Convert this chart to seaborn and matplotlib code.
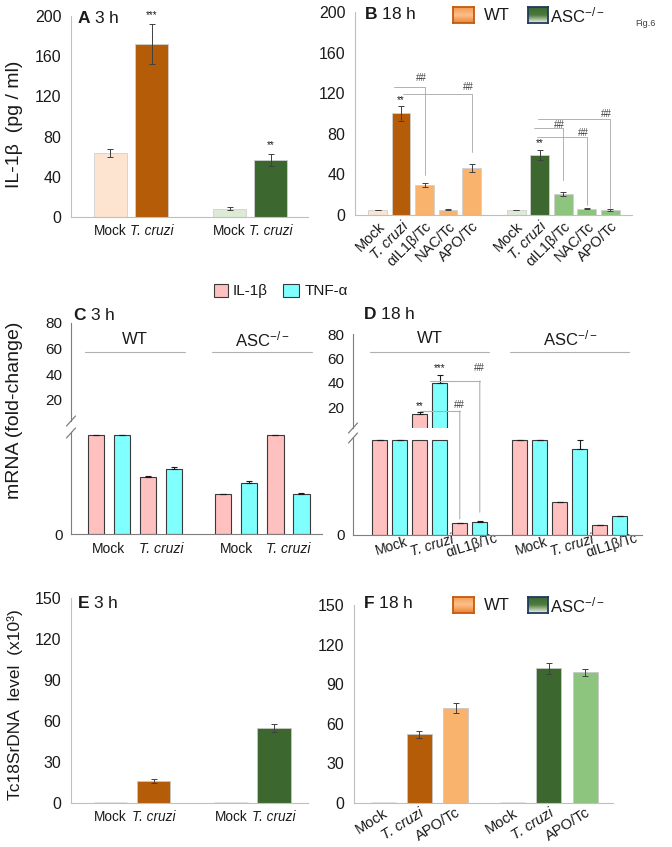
import numpy as np
import pandas as pd
import matplotlib
matplotlib.use("Agg")
import matplotlib.pyplot as plt
import seaborn as sns
from matplotlib.colors import LinearSegmentedColormap
from matplotlib.lines import Line2D
from matplotlib.patches import ConnectionPatch, Rectangle

W, H = 672, 847

# ---------------- data ----------------
# A: IL-1b protein, 3 h  (WT mock, WT T. cruzi, ASC-/- mock, ASC-/- T. cruzi)
a_labels = ["Mock", "T. cruzi", "Mock", "T. cruzi"]
a_values = [64, 172, 8, 57]
a_errors = [4, 20, 1.5, 6]

# B: IL-1b protein, 18 h
b_labels = ["Mock", "T. cruzi", "αIL1β/Tc", "NAC/Tc", "APO/Tc"] * 2
b_values = [5, 100, 30, 5, 46, 5, 59, 21, 6, 5]
b_errors = [0, 7, 2, 0.5, 4, 0, 5, 2, 0.5, 1]

# C: mRNA fold change, 3 h
c_labels = ["Mock", "T. cruzi", "Mock", "T. cruzi"]
c_il1b = [1.0, 0.58, 0.40, 1.0]
c_tnfa = [1.0, 0.66, 0.52, 0.40]
c_il1b_err = [0, 0.005, 0.005, 0]
c_tnfa_err = [0, 0.02, 0.015, 0.015]

# D: mRNA fold change, 18 h
d_labels = ["Mock", "T. cruzi", "αIL1β/Tc"] * 2
d_il1b = [1.0, 14, 0.13, 1.0, 0.35, 0.11]
d_tnfa = [1.0, 40, 0.14, 1.0, 0.90, 0.20]
d_il1b_err = [0, 2, 0, 0, 0, 0]
d_tnfa_err = [0, 6, 0.005, 0, 0.10, 0]

# E: Tc18SrDNA, 3 h
e_labels = ["Mock", "T. cruzi", "Mock", "T. cruzi"]
e_values = [0.3, 16, 0.3, 55]
e_errors = [0, 1.5, 0, 3]

# F: Tc18SrDNA, 18 h
f_labels = ["Mock", "T. cruzi", "APO/Tc"] * 2
f_values = [0.3, 52, 72, 0.3, 102, 99]
f_errors = [0, 2.5, 3.5, 0, 4, 2.5]

# significance marks (bar index, y value, text)
b_stars = [(1, 113, "**"), (6, 71, "**")]
# B brackets: (x start, bar index, y level, y end, label y)
b_brackets = [(0.7, 2, 126, 39, 135), (1.08, 4, 119, 62, 126),
              (6.82, 9, 95, 7, 100), (6.66, 7, 86, 34, 89), (6.79, 8, 77, 10, 81)]
# D brackets: (x start, bar index, y level in upper part, y end in lower part, label y)
d_brackets = [(2.5, 5, 41.4, 0.24, 52), (2.0, 4, 16.7, 0.17, 21.7)]

# ---------------- style ----------------
WT_MOCK, WT_TC, WT_LIGHT = "#FCE4D0", "#B45C08", "#F9B36D"
ASC_MOCK, ASC_TC, ASC_LIGHT = "#DDEBD6", "#3C6830", "#8DC47E"
PINK, CYAN = "#FFC0C0", "#80FFFF"
GRID_GREY = "#BFBFBF"

sns.set_style("white")
plt.rcParams["font.family"] = ["Liberation Sans", "DejaVu Sans"]
plt.rcParams["mathtext.fontset"] = "custom"
plt.rcParams["mathtext.rm"] = "Liberation Sans"
plt.rcParams["mathtext.bf"] = "Liberation Sans:bold"
plt.rcParams["mathtext.it"] = "Liberation Sans:italic"
plt.rcParams["mathtext.default"] = "regular"
plt.rcParams["text.color"] = "#1A1A1A"
plt.rcParams["xtick.color"] = "#1A1A1A"
plt.rcParams["ytick.color"] = "#1A1A1A"

fig = plt.figure(figsize=(W / 100, H / 100), dpi=100)


def rect(left, top, right, bottom):
    return [left / W, 1 - bottom / H, (right - left) / W, (bottom - top) / H]


def fxy(x, y):
    return x / W, 1 - y / H


def positions(n_groups, per_group, gap):
    return [g * (per_group + gap) + i for g in range(n_groups) for i in range(per_group)]


def draw_bars(ax, pos, values, colors, width, edge, lw):
    df = pd.DataFrame({"pos": pos, "value": values,
                       "key": [f"b{i}" for i in range(len(pos))]})
    sns.barplot(data=df, x="pos", y="value", hue="key",
                palette=dict(zip(df["key"], colors)), native_scale=True,
                width=width, errorbar=None, saturation=1, legend=False,
                edgecolor=edge, linewidth=lw, ax=ax)
    ax.set_xlabel("")
    ax.set_ylabel("")


def dark_baseline(ax, limit):
    # near-zero bars show up as a thin grey line on the axis
    for p in ax.patches:
        if p.get_height() < limit:
            p.set_edgecolor("#7A7A7A")
            p.set_linewidth(1.0)


def excel_axes(ax, ylim, yticks, xlim, seps):
    ax.set_xlim(xlim)
    ax.set_ylim(ylim)
    ax.set_yticks(yticks)
    sns.despine(ax=ax)
    for s in ["left", "bottom"]:
        ax.spines[s].set_color(GRID_GREY)
        ax.spines[s].set_linewidth(0.8)
    ax.tick_params(axis="y", length=4, width=0.8, color=GRID_GREY, labelsize=11.5, pad=3)
    ax.set_xticks(seps, minor=True)
    ax.tick_params(axis="x", which="minor", length=4, width=0.8, color=GRID_GREY)
    ax.tick_params(axis="x", which="major", length=0, labelsize=9.8, pad=5)


def italic_cruzi(ax):
    for lbl in ax.get_xticklabels():
        if "cruzi" in lbl.get_text():
            lbl.set_fontstyle("italic")


def gradient_swatch(x, y, w, h, colors, edge):
    sw = fig.add_axes(rect(x, y, x + w, y + h))
    cmap = LinearSegmentedColormap.from_list("sw", colors)
    sw.imshow(np.linspace(0, 1, 32).reshape(-1, 1), aspect="auto", cmap=cmap)
    sw.set_xticks([])
    sw.set_yticks([])
    for s in sw.spines.values():
        s.set_visible(True)
        s.set_color(edge)
        s.set_linewidth(1.3)


def strain_legend(y):
    gradient_swatch(453, y - 8, 21, 16, ["#F59A4E", "#FBC08C", "#EE8530"], "#C55A11")
    fig.text(*fxy(484, y), "WT", fontsize=12, va="center")
    gradient_swatch(528, y - 8, 20, 16, ["#3C6830", "#4C7A3C", "#EEF0E6"], "#1F3A5F")
    fig.text(*fxy(550, y), "ASC$^{-/-}$", fontsize=12, va="center")


# ---------------- A ----------------
axA = fig.add_axes(rect(71, 16, 308, 217))
a_pos = positions(2, 2, 0.9)
draw_bars(axA, a_pos, a_values, [WT_MOCK, WT_TC, ASC_MOCK, ASC_TC], 0.8, "#D0D0D0", 0.6)
axA.errorbar(a_pos, a_values, yerr=a_errors, fmt="none", ecolor="#404040",
             elinewidth=0.7, capsize=2.5, capthick=0.7)
excel_axes(axA, (0, 200), range(0, 201, 40), (-0.96, 4.81), [1.95])
axA.set_xticks(a_pos, a_labels)
italic_cruzi(axA)
axA.text(a_pos[1], 201, "***", ha="center", va="center", fontsize=7, clip_on=False)
axA.text(a_pos[3], 72, "**", ha="center", va="center", fontsize=7)
fig.text(*fxy(77, 18), r"$\mathbf{A}$ 3 h", fontsize=12.5, va="center")
fig.text(*fxy(15, 124), "IL-1β  (pg / ml)", fontsize=14, rotation=90, ha="center", va="center")

# ---------------- B ----------------
axB = fig.add_axes(rect(355, 12, 632, 215))
b_pos = positions(2, 5, 0.9)
b_colors = [WT_MOCK, WT_TC, WT_LIGHT, WT_LIGHT, WT_LIGHT,
            ASC_MOCK, ASC_TC, ASC_LIGHT, ASC_LIGHT, ASC_LIGHT]
draw_bars(axB, b_pos, b_values, b_colors, 0.8, "#D0D0D0", 0.6)
axB.errorbar(b_pos, b_values, yerr=b_errors, fmt="none", ecolor="#404040",
             elinewidth=0.7, capsize=2, capthick=0.7)
excel_axes(axB, (0, 200), range(0, 201, 40), (-0.96, 10.83), [4.95])
axB.set_xticks(b_pos, b_labels, rotation=45, ha="right", rotation_mode="anchor")
axB.tick_params(axis="x", which="major", labelsize=10.5, pad=3)
italic_cruzi(axB)
for i, y, s in b_stars:
    axB.text(b_pos[i], y, s, ha="center", va="center", fontsize=7)
for x0, bar, yl, yend, ylab in b_brackets:
    xb = b_pos[bar]
    axB.plot([x0, xb, xb], [yl, yl, yend], color="#A6A6A6", lw=0.6)
    axB.text(xb - 0.15, ylab, "##", ha="center", va="center", fontsize=7, color="#404040")
fig.text(*fxy(364, 14), r"$\mathbf{B}$ 18 h", fontsize=12.5, va="center")
strain_legend(15)
fig.text(*fxy(645, 24), "Fig.6", fontsize=6.5, ha="center", va="center", color="#404040")


# ---------------- C / D (broken axes) ----------------
def broken_panel(left, right, top_px, break_top, break_bot, bottom_px, top_ylim, bot_ylim,
                 labels, il1b, tnfa, il_err, tn_err, gap, xlim):
    axt = fig.add_axes(rect(left, top_px, right, break_top))
    axb = fig.add_axes(rect(left, break_bot, right, bottom_px))
    n = len(labels) // 2
    pos = positions(2, 2 * n, gap)
    vals = [v for pair in zip(il1b, tnfa) for v in pair]
    errs = [e for pair in zip(il_err, tn_err) for e in pair]
    cols = [PINK, CYAN] * len(labels)
    width = 0.75 if n == 3 else 0.62
    draw_bars(axt, pos, vals, cols, width, "#3A3A3A", 0.8)
    draw_bars(axb, pos, np.minimum(vals, 1.0), cols, width, "#3A3A3A", 0.8)
    for ax in (axt, axb):
        ax.errorbar(pos, vals, yerr=[np.zeros(len(errs)), errs], fmt="none",
                    ecolor="#1A1A1A", elinewidth=0.8, capsize=2.5, capthick=0.8)
        ax.set_xlim(xlim)
        sns.despine(ax=ax)
        ax.spines["left"].set_color("#7F7F7F")
        ax.spines["bottom"].set_color("#7F7F7F")
        ax.tick_params(axis="y", length=4, color="#7F7F7F", labelsize=11, pad=2)
        ax.tick_params(axis="x", length=0)
    axt.spines["bottom"].set_visible(False)
    axt.set_ylim(top_ylim)
    axt.set_yticks([20, 40, 60, 80])
    axt.set_xticks([])
    axb.set_ylim(bot_ylim)
    axb.set_yticks([0])
    centers = [(pos[2 * k] + pos[2 * k + 1]) / 2 for k in range(len(labels))]
    axb.set_xticks(centers, labels)
    # break marks on the y axis
    for yb in (break_top, break_bot):
        fig.add_artist(Line2D([(left - 4.5) / W, (left + 4.5) / W],
                              [1 - (yb + 5) / H, 1 - (yb - 5) / H],
                              color="#7F7F7F", lw=0.9))
    return axt, axb, pos, centers


axCt, axCb, c_pos, c_centers = broken_panel(71, 322, 323, 421, 433, 534, (3.6, 80), (0, 1.02),
                                            c_labels, c_il1b, c_tnfa, c_il1b_err, c_tnfa_err,
                                            0.9, (-0.96, 8.69))
axCb.tick_params(axis="x", labelsize=10, pad=6)
italic_cruzi(axCb)
for g, name in enumerate(["WT", "ASC$^{-/-}$"]):
    lo, hi = c_pos[4 * g], c_pos[4 * g + 3]
    axCt.text((lo + hi) / 2, 67.5, name, ha="center", va="center", fontsize=12)
    axCt.plot([lo - 0.42, hi + 0.42], [57.4, 57.4], color="#B0B0B0", lw=0.8)
fig.text(*fxy(73, 315), r"$\mathbf{C}$ 3 h", fontsize=12.5, va="center")

axDt, axDb, d_pos, d_centers = broken_panel(353, 642, 334, 428, 438, 535, (2.8, 80), (0, 1.02),
                                            d_labels, d_il1b, d_tnfa, d_il1b_err, d_tnfa_err,
                                            1.0, (-1.33, 13.1))
axDb.set_xticks(d_centers, d_labels, rotation=17, ha="center", rotation_mode="anchor")
axDb.tick_params(axis="x", labelsize=10, pad=3)
italic_cruzi(axDb)
for g, name in enumerate(["WT", "ASC$^{-/-}$"]):
    lo, hi = d_pos[6 * g], d_pos[6 * g + 5]
    axDt.text((lo + hi) / 2, 76, name, ha="center", va="center", fontsize=12)
    axDt.plot([lo - 0.5, hi + 0.45], [65.2, 65.2], color="#B0B0B0", lw=0.8)
axDt.text(d_pos[2], 20.8, "**", ha="center", va="center", fontsize=7)
axDt.text(d_pos[3], 52, "***", ha="center", va="center", fontsize=7)
for x0, bar, yl, yend, ylab in d_brackets:
    xb = d_pos[bar]
    axDt.plot([x0, xb], [yl, yl], color="#B0B0B0", lw=0.8)
    fig.add_artist(ConnectionPatch((xb, yl), (xb, yend), coordsA=axDt.transData,
                                   coordsB=axDb.transData, color="#B0B0B0", lw=0.8))
    axDt.text(xb, ylab, "##", ha="center", va="center", fontsize=7, color="#404040")
fig.text(*fxy(363, 314), r"$\mathbf{D}$ 18 h", fontsize=12.5, va="center")

# legend C/D
fig.add_artist(Rectangle(fxy(214, 297), 14 / W, 13 / H, transform=fig.transFigure,
                         facecolor=PINK, edgecolor="#3A3A3A", lw=0.8))
fig.text(*fxy(233, 291), "IL-1β", fontsize=11, va="center")
fig.add_artist(Rectangle(fxy(283, 297), 16 / W, 13 / H, transform=fig.transFigure,
                         facecolor=CYAN, edgecolor="#3A3A3A", lw=0.8))
fig.text(*fxy(305, 291), "TNF-α", fontsize=11, va="center")
fig.text(*fxy(15, 410), "mRNA (fold-change)", fontsize=14, rotation=90, ha="center", va="center")

# ---------------- E ----------------
axE = fig.add_axes(rect(71, 598, 308, 803))
e_pos = positions(2, 2, 0.8)
draw_bars(axE, e_pos, e_values, [WT_MOCK, WT_TC, ASC_MOCK, ASC_TC], 0.78, "#C8C8C8", 0.6)
dark_baseline(axE, 1)
axE.errorbar(e_pos, e_values, yerr=e_errors, fmt="none", ecolor="#404040",
             elinewidth=0.7, capsize=2.5, capthick=0.7)
excel_axes(axE, (0, 150), range(0, 151, 30), (-0.92, 4.59), [1.9])
axE.set_xticks(e_pos, e_labels)
italic_cruzi(axE)
fig.text(*fxy(77, 603), r"$\mathbf{E}$ 3 h", fontsize=12.5, va="center")
fig.text(*fxy(15, 705), "Tc18SrDNA  level  (x10³)", fontsize=12.5, rotation=90,
         ha="center", va="center")

# ---------------- F ----------------
axF = fig.add_axes(rect(354, 605, 613, 803))
f_pos = positions(2, 3, 0.57)
f_colors = [WT_MOCK, WT_TC, WT_LIGHT, ASC_MOCK, ASC_TC, ASC_LIGHT]
draw_bars(axF, f_pos, f_values, f_colors, 0.69, "#C8C8C8", 0.6)
dark_baseline(axF, 1)
axF.errorbar(f_pos, f_values, yerr=f_errors, fmt="none", ecolor="#404040",
             elinewidth=0.7, capsize=2.5, capthick=0.7)
excel_axes(axF, (0, 150), range(0, 151, 30), (-0.8, 6.34), [2.79])
axF.set_xticks(f_pos, f_labels, rotation=32, ha="right", rotation_mode="anchor")
axF.tick_params(axis="x", which="major", labelsize=10.5, pad=2)
italic_cruzi(axF)
fig.text(*fxy(363, 603), r"$\mathbf{F}$ 18 h", fontsize=12.5, va="center")
strain_legend(605)

fig.savefig("out.png", dpi=100)
